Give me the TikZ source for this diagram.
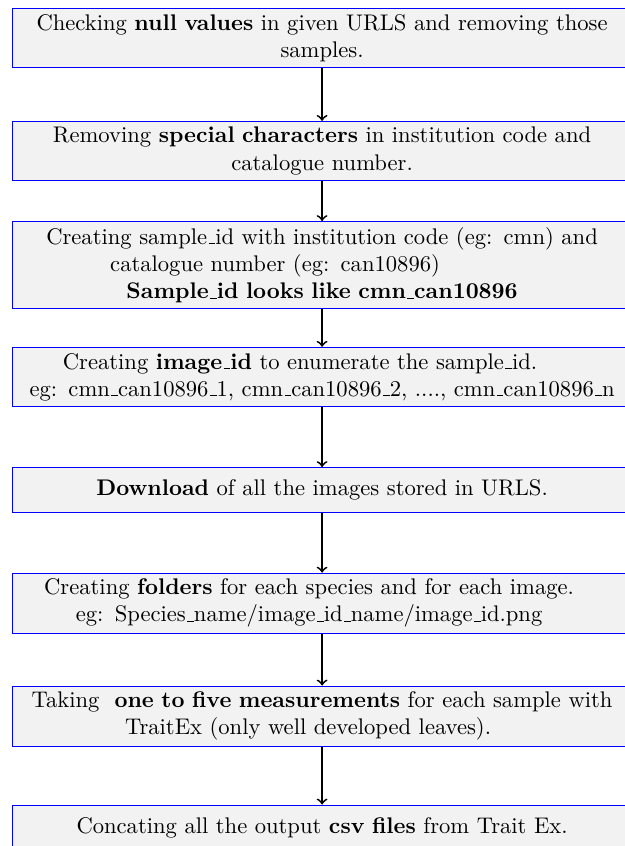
\documentclass[tikz,border=0pt]{standalone}
\usetikzlibrary{positioning}
\newcommand{\us}{\leavevmode\kern.06em\vbox{\hrule width.3em}}
\newcommand{\pushleft}[1]{\hspace*{#1}\mbox{}}
\begin{document}
\begin{tikzpicture}[
  stepbox/.style={draw=blue, fill=gray!10, text width=267.5pt, align=center, inner ysep=2.6pt, minimum height=19.9pt},
  flow/.style={->, thick}
]
\useasboundingbox (0,0) rectangle (276.1pt,-374.3pt);
% processing steps, top to bottom
\node[stepbox, anchor=north] (nullval) at (142.5pt,-3.5pt) {Checking \textbf{null values} in given URLS and removing those\\ samples.};
\node[stepbox, below=23.4pt of nullval] (special) {Removing \textbf{special characters} in institution code and\\ catalogue number.};
\node[stepbox, below=17.7pt of special] (sampleid) {Creating sample\us id with institution code (eg: cmn) and\\ catalogue number (eg: can10896)\pushleft{41.6pt}\\ \textbf{Sample\us id looks like cmn\us can10896}};
\node[stepbox, below=16.6pt of sampleid] (imageid) {Creating \textbf{image\us id} to enumerate the sample\us id.\pushleft{19.5pt}\\ eg: cmn\us can10896\us 1, cmn\us can10896\us 2, ...., cmn\us can10896\us n};
\node[stepbox, below=26.5pt of imageid] (download) {\textbf{Download} of all the images stored in URLS.};
\node[stepbox, below=26.4pt of download] (folders) {Creating \textbf{folders} for each species and for each image.\pushleft{11.5pt}\\ eg: Species\us name/image\us id\us name/image\us id.png\pushleft{11.5pt}};
\node[stepbox, below=22.8pt of folders] (measure) {Taking~ \textbf{one to five measurements} for each sample with\\ TraitEx (only well developed leaves).\pushleft{12.4pt}};
\node[stepbox, below=25.5pt of measure] (concat) {Concating all the output \textbf{csv files} from Trait Ex.};
% connectors
\foreach \a/\b in {nullval/special, special/sampleid, sampleid/imageid, imageid/download, download/folders, folders/measure, measure/concat}
  \draw[flow] (\a) -- (\b);
\end{tikzpicture}
\end{document}
